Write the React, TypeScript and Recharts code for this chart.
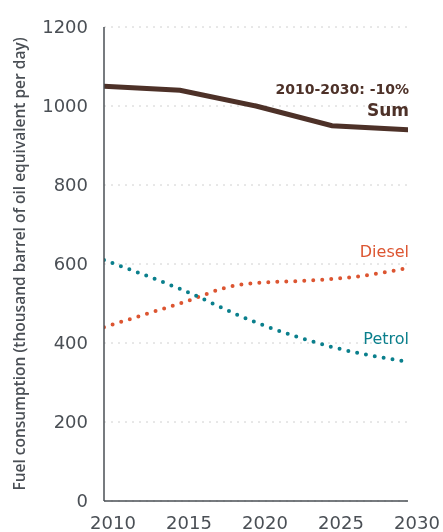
import React from 'react';
import {
  LineChart,
  Line,
  XAxis,
  YAxis,
  CartesianGrid,
  Label
} from 'recharts';

// Fuel consumption, thousand barrel of oil equivalent per day
const sumYears = [2010, 2015, 2020, 2025, 2030];
const sumValues = [1050, 1040, 1000, 950, 940];

const dieselYears = [2010, 2015, 2019, 2025, 2027, 2030];
const dieselValues = [440, 500, 548, 562, 570, 590];

const petrolYears = [2010, 2015, 2020, 2025, 2030];
const petrolValues = [610, 537, 452, 390, 352];

const xTicks = [2010, 2015, 2020, 2025, 2030];
const yTicks = [0, 200, 400, 600, 800, 1000, 1200];

const sumData = sumYears.map((year, i) => ({ year, value: sumValues[i] }));
const dieselData = dieselYears.map((year, i) => ({ year, value: dieselValues[i] }));
const petrolData = petrolYears.map((year, i) => ({ year, value: petrolValues[i] }));

const FONT = '"DejaVu Sans", sans-serif';
const AXIS = '#4a4f55';
const SUM = '#4d3128';
const DIESEL = '#dc5531';
const PETROL = '#0a7f8c';

// draws the series name only next to the last point
const endLabel = (count: number, lines: Array<{ text: string; dy: number; size: number; weight: number }>, color: string) =>
  (props: any) => {
    const { x, y, index } = props;
    if (index !== count - 1) return null;
    return (
      <g>
        {lines.map((l, i) => (
          <text
            key={i}
            x={x + 1}
            y={y + l.dy}
            textAnchor="end"
            fill={color}
            fontSize={l.size}
            fontWeight={l.weight}
            fontFamily={FONT}
          >
            {l.text}
          </text>
        ))}
      </g>
    );
  };

export default function App() {
  return (
    <div style={{ position: 'fixed', left: 0, top: 0 }}>
      <LineChart width={443} height={532} margin={{ top: 27, right: 35, left: 0, bottom: 0 }}>
        <CartesianGrid vertical={false} stroke="#d0d0d0" strokeDasharray="2 5" />
        <XAxis
          type="number"
          dataKey="year"
          domain={[2010, 2030]}
          ticks={xTicks}
          allowDataOverflow
          tickLine={false}
          axisLine={{ stroke: AXIS, strokeWidth: 1.5 }}
          tick={{ fill: AXIS, fontSize: 18, fontFamily: FONT, dx: 9 }}
          tickMargin={9}
          height={31}
        />
        <YAxis
          type="number"
          domain={[0, 1200]}
          ticks={yTicks}
          tickLine={false}
          axisLine={{ stroke: AXIS, strokeWidth: 1.5 }}
          tick={{ fill: AXIS, fontSize: 18, fontFamily: FONT }}
          tickMargin={10}
          width={104}
        >
          <Label
            value="Fuel consumption (thousand barrel of oil equivalent per day)"
            angle={-90}
            position="insideLeft"
            offset={19}
            style={{ textAnchor: 'middle', fill: AXIS, fontSize: 15.5, fontWeight: 600, fontFamily: '"Open Sans", sans-serif' }}
          />
        </YAxis>
        <Line
          data={sumData}
          dataKey="value"
          type="linear"
          stroke={SUM}
          strokeWidth={5}
          strokeLinecap="round"
          dot={false}
          isAnimationActive={false}
          label={endLabel(sumData.length, [
            { text: '2010-2030: -10%', dy: -36, size: 14, weight: 700 },
            { text: 'Sum', dy: -14, size: 17, weight: 700 }
          ], SUM)}
        />
        <Line
          data={dieselData}
          dataKey="value"
          type="monotone"
          stroke={DIESEL}
          strokeWidth={4}
          strokeLinecap="round"
          strokeDasharray="0 9"
          dot={false}
          isAnimationActive={false}
          label={endLabel(dieselData.length, [{ text: 'Diesel', dy: -11, size: 16, weight: 400 }], DIESEL)}
        />
        <Line
          data={petrolData}
          dataKey="value"
          type="monotone"
          stroke={PETROL}
          strokeWidth={4}
          strokeLinecap="round"
          strokeDasharray="0 9"
          dot={false}
          isAnimationActive={false}
          label={endLabel(petrolData.length, [{ text: 'Petrol', dy: -18, size: 16, weight: 400 }], PETROL)}
        />
      </LineChart>
    </div>
  );
}
